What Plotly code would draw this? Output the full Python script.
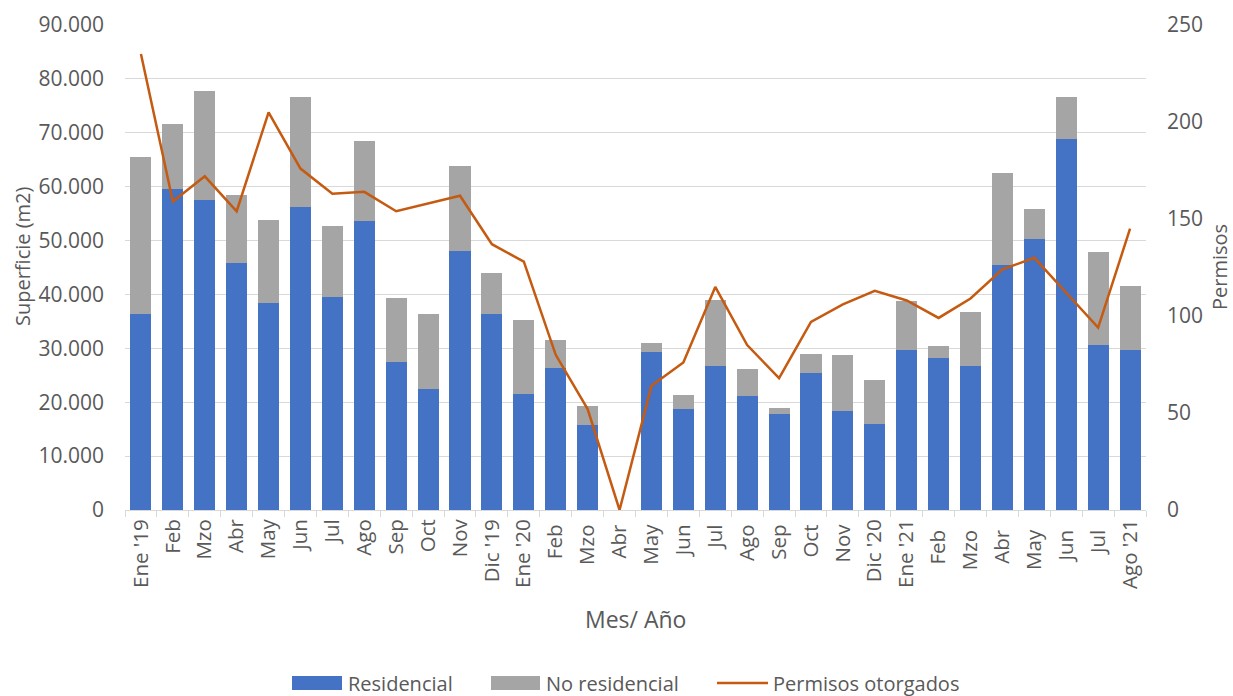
import plotly.graph_objects as go

categories = ["Ene '19", "Feb", "Mzo", "Abr", "May", "Jun", "Jul", "Ago", "Sep", "Oct", "Nov", "Dic '19",
              "Ene '20", "Feb ", "Mzo ", "Abr ", "May ", "Jun ", "Jul ", "Ago ", "Sep ", "Oct ", "Nov ", "Dic '20",
              "Ene '21", "Feb  ", "Mzo  ", "Abr  ", "May  ", "Jun  ", "Jul  ", "Ago '21"]

residencial = [36300, 59500, 57600, 45800, 38500, 56300, 39600, 53600, 27500, 22500, 48000, 36400,
               21600, 26300, 15700, 0, 29400, 18700, 26800, 21100, 17900, 25400, 18400, 15900,
               29600, 28200, 26800, 45500, 50300, 68800, 30700, 29600]

total = [65500, 71700, 77800, 58500, 53800, 76700, 52700, 68400, 39300, 36400, 63900, 44000,
         35300, 31500, 19300, 0, 31000, 21400, 39000, 26200, 18900, 28900, 28800, 24100,
         38700, 30500, 36800, 62600, 55900, 76700, 47900, 41500]

no_residencial = [t - r for t, r in zip(total, residencial)]

permisos = [235, 159, 172, 154, 205, 176, 163, 164, 154, 158, 162, 137,
            128, 80, 52, 0, 64, 76, 115, 85, 68, 97, 106, 113,
            108, 99, 109, 124, 130, 112, 94, 145]

FONT = "Open Sans"
GREY = "#595959"
BLUE = "#4472C4"
GRAY = "#A5A5A5"
ORANGE = "#C55A11"

W, H = 1233, 696
L, R, T, B = 125, 87, 25, 186
PW, PH = W - L - R, H - T - B


def px(x):
    return (x - L) / PW


def py(y):
    return (H - B - y) / PH


fig = go.Figure()
fig.add_trace(go.Bar(x=categories, y=residencial, name="Residencial", marker_color=BLUE,
                     marker_line_width=0, showlegend=False))
fig.add_trace(go.Bar(x=categories, y=no_residencial, name="No residencial", marker_color=GRAY,
                     marker_line_width=0, showlegend=False))
fig.add_trace(go.Scatter(x=categories, y=permisos, name="Permisos otorgados", mode="lines",
                         line=dict(color=ORANGE, width=2.5), yaxis="y2", showlegend=False))

LEG_Y = 683
shapes = [
    dict(type="rect", xref="paper", yref="paper", x0=px(292), x1=px(342), y0=py(LEG_Y + 7), y1=py(LEG_Y - 7),
         fillcolor=BLUE, line_width=0),
    dict(type="rect", xref="paper", yref="paper", x0=px(491), x1=px(540), y0=py(LEG_Y + 7), y1=py(LEG_Y - 7),
         fillcolor=GRAY, line_width=0),
    dict(type="line", xref="paper", yref="paper", x0=px(717), x1=px(768), y0=py(LEG_Y), y1=py(LEG_Y),
         line=dict(color=ORANGE, width=2.5)),
]

annotations = [
    dict(text="Mes/ Año", x=px(635), y=py(619), xref="paper", yref="paper", showarrow=False,
         font=dict(size=23, color=GREY, family=FONT), xanchor="center", yanchor="middle"),
    dict(text="Superficie (m2)", x=px(22), y=py(256), xref="paper", yref="paper", showarrow=False,
         textangle=-90, font=dict(size=20, color=GREY, family=FONT), xanchor="center", yanchor="middle"),
    dict(text="Permisos", x=px(1219), y=py(267), xref="paper", yref="paper", showarrow=False,
         textangle=-90, font=dict(size=20, color=GREY, family=FONT), xanchor="center", yanchor="middle"),
    dict(text="Residencial", x=px(346), y=py(LEG_Y), xref="paper", yref="paper", showarrow=False,
         font=dict(size=20, color=GREY, family=FONT), xanchor="left", yanchor="middle"),
    dict(text="No residencial", x=px(544), y=py(LEG_Y), xref="paper", yref="paper", showarrow=False,
         font=dict(size=20, color=GREY, family=FONT), xanchor="left", yanchor="middle"),
    dict(text="Permisos otorgados", x=px(771), y=py(LEG_Y), xref="paper", yref="paper", showarrow=False,
         font=dict(size=20, color=GREY, family=FONT), xanchor="left", yanchor="middle"),
]

fig.update_layout(
    barmode="stack",
    bargap=0.34,
    width=W, height=H,
    margin=dict(l=L, r=R, t=T, b=B, autoexpand=False),
    plot_bgcolor="white", paper_bgcolor="white",
    separators=",.",
    font=dict(family=FONT, size=20, color=GREY),
    showlegend=False,
    xaxis=dict(tickangle=-90, showgrid=False, showline=True, linecolor="#D9D9D9", linewidth=1,
               ticks="outside", tickcolor="#D9D9D9", ticklen=6, tickfont=dict(size=20.5, color=GREY),
               tickson="boundaries", automargin=False),
    yaxis=dict(range=[0, 90000], dtick=10000, tickformat=",.0f", showgrid=True, gridcolor="#D9D9D9",
               gridwidth=1, zeroline=False, showline=False, tickfont=dict(size=21, color=GREY),
               ticklabelstandoff=20, automargin=False),
    yaxis2=dict(range=[0, 250], dtick=50, overlaying="y", side="right", showgrid=False, zeroline=False,
                tickfont=dict(size=21, color=GREY), ticklabelstandoff=20, automargin=False),
    shapes=shapes,
    annotations=annotations,
)

fig.write_html("out.html", config={"displayModeBar": False},
               post_script="document.body.style.margin='0px';document.body.style.padding='0px';")
